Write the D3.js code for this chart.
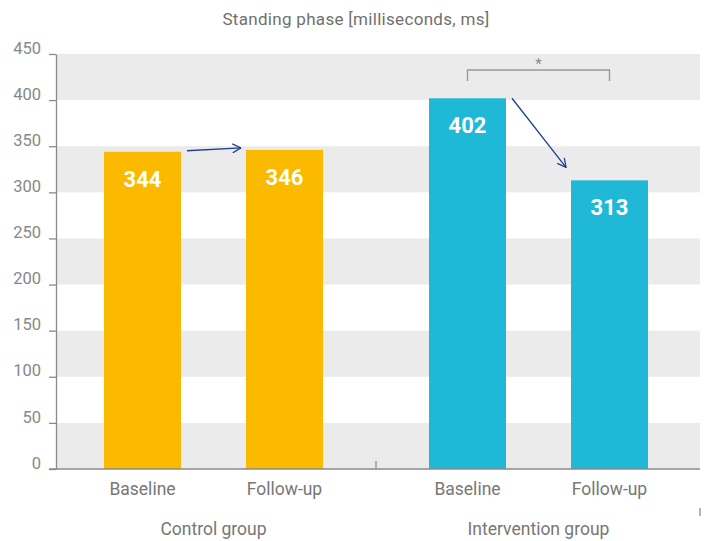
<!DOCTYPE html>
<html><head><meta charset="utf-8">
<script src="https://cdn.jsdelivr.net/npm/d3@7"></script>
<style>
body{margin:0;background:#fff;}
text{font-family:Roboto,"DejaVu Sans",sans-serif;}
</style></head>
<body><svg id="c" width="710" height="541"></svg>
<script>
const groups = ["Control group", "Intervention group"];
const phases = ["Baseline", "Follow-up"];
const controlValues = [344, 346];
const interventionValues = [402, 313];
const yTicks = [0, 50, 100, 150, 200, 250, 300, 350, 400, 450];
const title = "Standing phase [milliseconds, ms]";
const significance = "*";

(function () {
const colors = {"Control group": "#FBB900", "Intervention group": "#1FB8D6"};
const data = [];
groups.forEach((g, gi) => {
  const vals = gi === 0 ? controlValues : interventionValues;
  phases.forEach((p, pi) => data.push({group: g, phase: p, value: vals[pi]}));
});

const svg = d3.select("#c");
const mLeft = 56, mRight = 700, mTop = 54, mBottom = 469;
const y = d3.scaleLinear().domain([0, 450]).range([mBottom, mTop]);
const x0 = d3.scaleBand().domain(groups).range([51, 701]).padding(0);
const x1 = d3.scaleBand().domain(phases).range([0, x0.bandwidth()]).paddingInner(0.458).paddingOuter(0.3734);
const bx = d => x0(d.group) + x1(d.phase);

// bands
for (let i = 0; i < yTicks.length - 1; i += 2) {
  svg.append("rect").attr("x", mLeft).attr("width", mRight - mLeft)
    .attr("y", y(yTicks[i + 1])).attr("height", y(yTicks[i]) - y(yTicks[i + 1]))
    .attr("fill", "#EBEBEB");
}

// title
svg.append("text").attr("x", 356).attr("y", 25).attr("text-anchor", "middle")
  .attr("font-size", 17).attr("letter-spacing", 0.3).attr("fill", "#707070").text(title);

// y axis
const yAxis = svg.append("g").attr("transform", `translate(${mLeft},0)`)
  .call(d3.axisLeft(y).tickValues(yTicks).tickSize(7).tickSizeOuter(0).tickPadding(8));
yAxis.select(".domain").attr("stroke", "#8a8a8a").attr("stroke-width", 1.3);
yAxis.selectAll(".tick line").attr("stroke", "#8a8a8a").attr("stroke-width", 1.3);
yAxis.selectAll(".tick text").attr("font-size", 16.5).attr("fill", "#888").attr("dy", "-0.05em");

// bars
svg.selectAll(".bar").data(data).join("rect")
  .attr("x", bx).attr("width", x1.bandwidth())
  .attr("y", d => y(d.value)).attr("height", d => y(0) - y(d.value))
  .attr("fill", d => colors[d.group]);

// x axis line
svg.append("line").attr("x1", mLeft - 7).attr("x2", mRight).attr("y1", mBottom).attr("y2", mBottom)
  .attr("stroke", "#8a8a8a").attr("stroke-width", 1.3);
svg.append("line").attr("x1", x0(groups[1])).attr("x2", x0(groups[1]))
  .attr("y1", mBottom - 8).attr("y2", mBottom).attr("stroke", "#8a8a8a").attr("stroke-width", 1.3);
svg.append("line").attr("x1", mRight).attr("x2", mRight)
  .attr("y1", mBottom + 39).attr("y2", mBottom + 47).attr("stroke", "#8a8a8a").attr("stroke-width", 1.3);

// value labels
svg.selectAll(".vl").data(data).join("text")
  .attr("x", d => bx(d) + x1.bandwidth() / 2).attr("y", d => y(d.value) + 35)
  .attr("text-anchor", "middle").attr("font-size", 22).attr("font-weight", "bold")
  .attr("fill", "#fff").text(d => d.value);

// phase labels
svg.selectAll(".pl").data(data).join("text")
  .attr("x", d => bx(d) + x1.bandwidth() / 2).attr("y", mBottom + 26)
  .attr("text-anchor", "middle").attr("font-size", 17.5).attr("fill", "#777").text(d => d.phase);

// group labels
svg.selectAll(".gl").data(groups).join("text")
  .attr("x", g => x0(g) + x1("Baseline") + (x1("Follow-up") - x1("Baseline") + x1.bandwidth()) / 2)
  .attr("y", mBottom + 66).attr("text-anchor", "middle").attr("font-size", 17.5).attr("fill", "#777").text(g => g);

// arrows
const defs = svg.append("defs");
defs.append("marker").attr("id", "ah").attr("viewBox", "0 0 10 10").attr("refX", 9.5).attr("refY", 5)
  .attr("markerWidth", 10).attr("markerHeight", 10).attr("markerUnits", "userSpaceOnUse").attr("orient", "auto")
  .append("path").attr("d", "M1,0.5 L9.5,5 L1,9.5").attr("fill", "none").attr("stroke", "#1F3F8F").attr("stroke-width", 1.3);

const arrowSpecs = [
  {a: data[0], b: data[1], dy1: -1, dy2: -2},
  {a: data[2], b: data[3], dy1: 0, dy2: -13}
];
arrowSpecs.forEach(s => {
  svg.append("line")
    .attr("x1", bx(s.a) + x1.bandwidth() + 6).attr("y1", y(s.a.value) + s.dy1)
    .attr("x2", bx(s.b) - 5).attr("y2", y(s.b.value) + s.dy2)
    .attr("stroke", "#1F3F8F").attr("stroke-width", 1.3).attr("marker-end", "url(#ah)");
});

// significance bracket
const c1 = bx(data[2]) + x1.bandwidth() / 2, c2 = bx(data[3]) + x1.bandwidth() / 2;
svg.append("path").attr("d", `M${c1},81 V70 H${c2} V81`).attr("fill", "none")
  .attr("stroke", "#999").attr("stroke-width", 1.4);
svg.append("text").attr("x", (c1 + c2) / 2).attr("y", 69).attr("text-anchor", "middle")
  .attr("font-size", 15).attr("fill", "#888").text(significance);
})();
</script></body></html>
